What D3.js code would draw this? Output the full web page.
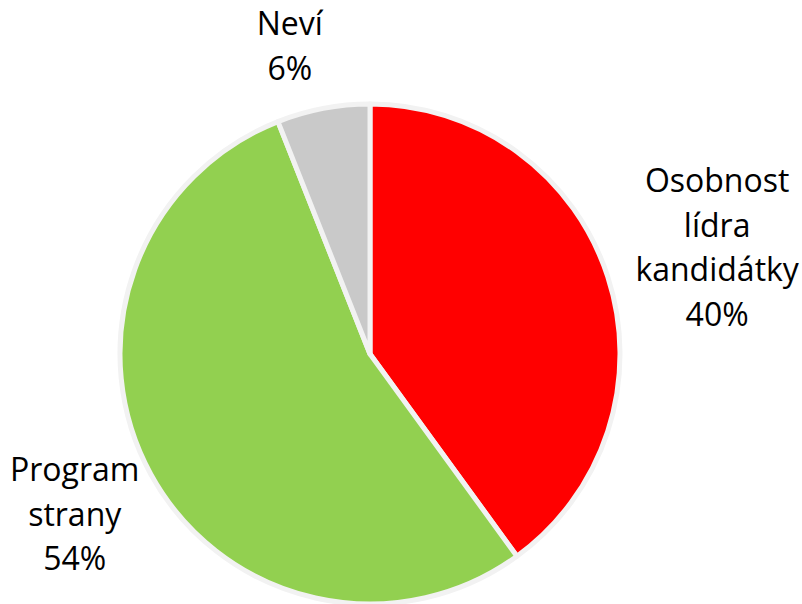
<!DOCTYPE html>
<html>
<head>
<meta charset="utf-8">
<script src="https://cdn.jsdelivr.net/npm/d3@7"></script>
<style>
body { margin: 0; background: #fff; }
text { font-family: "Open Sans", sans-serif; font-size: 32px; fill: #000; }
</style>
</head>
<body>
<div id="chart"></div>
<script>
var categories = ['Osobnost lídra kandidátky', 'Program strany', 'Neví']
var labelLines = [['Osobnost', 'lídra', 'kandidátky'], ['Program', 'strany'], ['Neví']]
var values = [40, 54, 6]
var colors = ['#ff0000', '#92d050', '#c9c9c9']

var width = 802, height = 604
var cx = 370, cy = 354, radius = 250

var svg = d3.select('#chart').append('svg')
	.attr('width', width).attr('height', height)

var g = svg.append('g').attr('transform', 'translate(' + cx + ',' + cy + ')')

var pie = d3.pie().sort(null).value(function(d) { return d })
var arcs = pie(values)

var arc = d3.arc().innerRadius(0).outerRadius(radius)

g.selectAll('path').data(arcs).enter().append('path')
	.attr('d', arc)
	.attr('fill', function(d, i) { return colors[i] })
	.attr('stroke', '#f2f2f2')
	.attr('stroke-width', 5)
	.attr('stroke-linejoin', 'round')

// label distance from center, tuned per slice like excel best fit
var labelRadius = [363, 336, 318]
var labelShift = [1, 0.3, -3.8]
var lineH = 44.5

var labels = g.selectAll('g.label').data(arcs).enter().append('g').attr('class', 'label')
	.attr('transform', function(d, i) {
		var a = (d.startAngle + d.endAngle) / 2 + labelShift[i] * Math.PI / 180
		var r = labelRadius[i]
		return 'translate(' + (r * Math.sin(a)) + ',' + (-r * Math.cos(a)) + ')'
	})

labels.each(function(d, i) {
	var lines = labelLines[i].concat([values[i] + '%'])
	var t = d3.select(this).append('text').attr('text-anchor', 'middle')
	var top = -(lines.length - 1) * lineH / 2
	lines.forEach(function(l, k) {
		t.append('tspan').attr('x', 0).attr('y', top + k * lineH).attr('dy', '0.35em').text(l)
	})
})
</script>
</body>
</html>
